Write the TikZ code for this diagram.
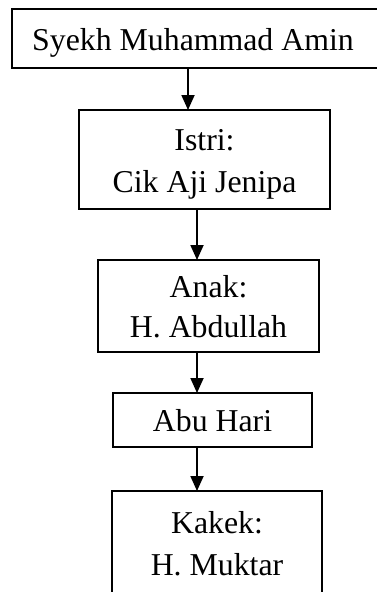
\documentclass[tikz,border=0pt]{standalone}
\usepackage{fontspec}
\setmainfont{Liberation Serif}
\usetikzlibrary{arrows.meta}
\newcommand\diafs{\fontsize{31.8}{41.5}\selectfont}
\begin{document}
\begin{tikzpicture}[x=1pt,y=-1pt,
  box/.style={draw, line width=1.6pt, inner sep=0pt, outer sep=0pt},
  lbl/.style={anchor=base, inner sep=0pt, font=\diafs},
  arr/.style={line width=1.8pt, -{Triangle[width=13pt,length=15pt]}}]
\useasboundingbox (0,0) rectangle (377,592);
\fill[white] (0,0) rectangle (377,592);
\clip (0,0) rectangle (377,592);
% boxes
\node[box, minimum width=366pt, minimum height=59pt] (b1) at (195,38.5) {};
\node[box, minimum width=251pt, minimum height=99pt] (b2) at (204.5,159.5) {};
\node[box, minimum width=221pt, minimum height=92pt] (b3) at (208.5,306) {};
\node[box, minimum width=199pt, minimum height=54pt] (b4) at (212.5,420) {};
\node[box, minimum width=210pt, minimum height=105pt] (b5) at (217,543.5) {};
% labels
\node[lbl] (t1) at (193,50) {Syekh Muhammad Amin};
\node[lbl] (t2a) at (204.5,150) {Istri:};
\node[lbl] (t2b) at (204.5,192) {Cik Aji Jenipa};
\node[lbl] (t3a) at (208.5,297) {Anak:};
\node[lbl] (t3b) at (208.5,337) {H. Abdullah};
\node[lbl] (t4) at (212.5,431) {Abu Hari};
\node[lbl] (t5a) at (217,533) {Kakek:};
\node[lbl] (t5b) at (217,575) {H. Muktar};
% connectors
\coordinate (xa) at (188,0);
\coordinate (xb) at (197,0);
\draw[arr] (b1.south -| xa) -- (b2.north -| xa);
\draw[arr] (b2.south -| xb) -- (b3.north -| xb);
\draw[arr] (b3.south -| xb) -- (b4.north -| xb);
\draw[arr] (b4.south -| xb) -- (b5.north -| xb);
\end{tikzpicture}
\end{document}
